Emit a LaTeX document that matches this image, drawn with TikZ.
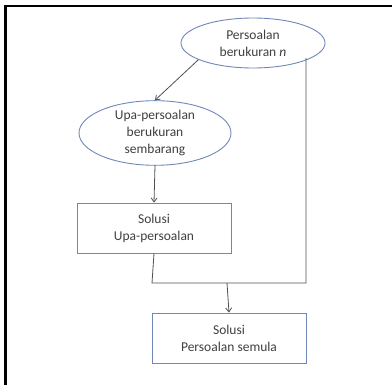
\documentclass[tikz,border=0pt]{standalone}
\usepackage{fontspec}
\setmainfont{Carlito}
\usetikzlibrary{shapes.geometric,arrows.meta}
\definecolor{edgeblue}{HTML}{7088B8}
\definecolor{txt}{HTML}{404040}
\definecolor{conn}{HTML}{505050}
\tikzset{
  ell/.style={ellipse,draw=edgeblue,line width=0.9pt,inner sep=0pt,text=txt,align=center,font=\fontsize{13.5}{17}\selectfont},
  boxn/.style={rectangle,draw=edgeblue,line width=0.9pt,inner sep=0pt,text=txt,align=center,font=\fontsize{13.5}{17}\selectfont},
  conline/.style={draw=conn,line width=0.8pt},
  arr/.style={conline,-{Straight Barb[length=4pt,width=6pt]}}
}
\begin{document}
\begin{tikzpicture}[x=1pt,y=-1pt]
\useasboundingbox (0,0) rectangle (392,385);
\fill[white] (0,0) rectangle (392,385);
\draw[line width=2.2pt,black] (5.5,385) -- (5.5,6) -- (392,6);
\node[ell,minimum width=144pt,minimum height=50pt] (p) at (253,43) {Persoalan\\berukuran \textit{n}};
\node[ell,minimum width=152pt,minimum height=62pt] (u) at (155,133) {Upa-persoalan\\berukuran\\sembarang};
\node[boxn,minimum width=154pt,minimum height=50pt] (s1) at (154,228) {Solusi\\Upa-persoalan};
\node[boxn,minimum width=154pt,minimum height=50pt] (s2) at (229,338) {Solusi\\Persoalan semula};
\coordinate (pr) at (306,58);
\coordinate (jr) at (306,283);
\coordinate (jl) at (152,283);
\coordinate (jm) at (227,283);
\draw[arr] (p.197) -- (u.north);
\draw[arr] (u.south) -- (s1.north);
\draw[conline] (pr) -- (jr) -- (jl) -- (s1.south);
\draw[arr] (jm) -- (s2.north);
\end{tikzpicture}
\end{document}
